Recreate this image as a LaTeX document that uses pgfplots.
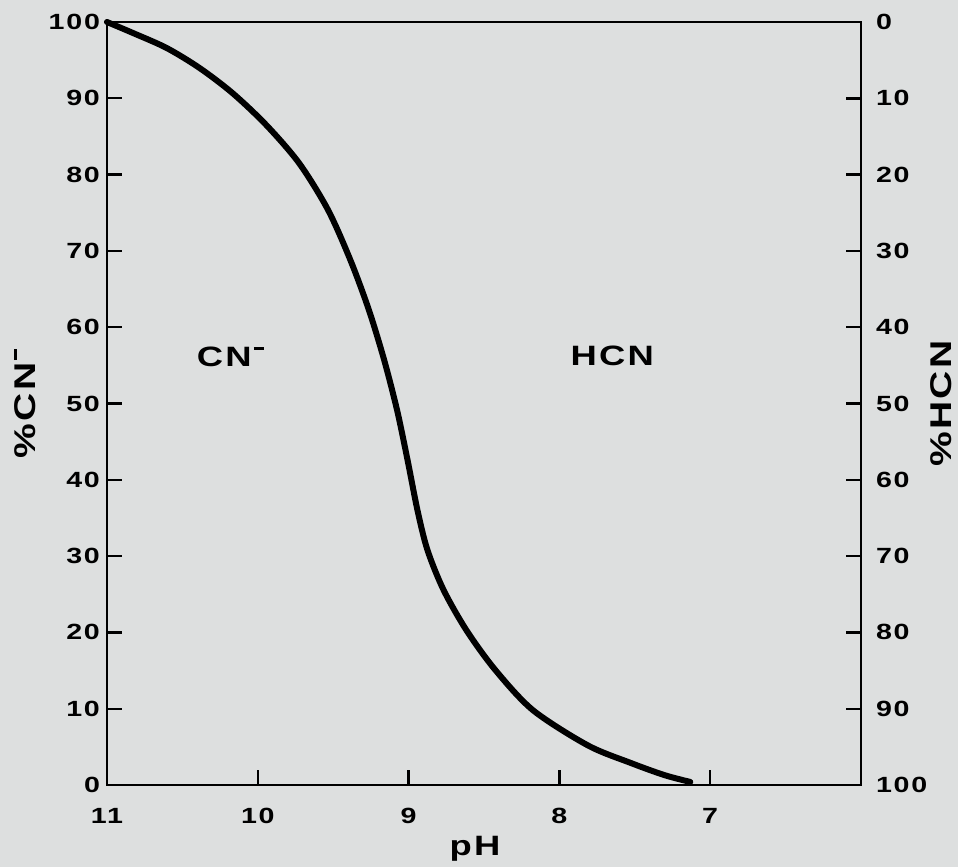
\documentclass[border=0pt]{standalone}
\usepackage{pgfplots}
\pgfplotsset{compat=1.18}
\usepackage{fontspec}
\setmainfont{Liberation Sans}[FakeStretch=1.3, LetterSpace=8]
\definecolor{paper}{RGB}{221,223,223}
\newcommand{\minus}{\hspace{0.08em}\raisebox{0.6em}{\rule{0.38em}{0.11em}}}
\begin{document}
\begin{tikzpicture}[font=\bfseries]
\fill[paper] (-53.5pt,-41pt) rectangle (425.5pt,392.5pt);
\useasboundingbox (-53.5pt,-41pt) rectangle (425.5pt,392.5pt);
\pgfplotsset{
  base/.style={
    at={(0,0)}, anchor=south west,
    width=377pt, height=381.5pt, scale only axis,
    xmin=6, xmax=11, ymin=0, ymax=100,
    tick align=inside, major tick length=7.5pt,
    axis line style={line width=1.3pt},
    every tick/.style={black, line width=1.2pt},
    /pgf/number format/assume math mode=true,
    ticklabel style={font=\bfseries\fontsize{11}{12}\selectfont},
    clip=false,
  }
}
\begin{axis}[base,
  x dir=reverse,
  xtick={7,8,9,10,11}, ytick={0,10,...,100},
  xtick pos=bottom, ytick pos=left,
  xticklabel style={yshift=-8pt},
]
\addplot[black, line width=3pt, smooth, line cap=round] coordinates {
  (11,100) (10.828,98.56) (10.604,96.59) (10.386,93.97) (10.168,90.69)
  (9.944,86.5) (9.726,81.5) (9.535,75.4) (9.386,68.8) (9.264,62.3)
  (9.162,55.7) (9.076,49.1) (9.007,42.6) (8.941,36.0) (8.875,30.8)
  (8.769,25.6) (8.617,20.3) (8.426,15.1) (8.175,9.8) (7.812,5.2)
  (7.528,2.9) (7.304,1.3) (7.132,0.4)
};
\node[font=\bfseries\fontsize{14}{16}\selectfont] at (axis cs:10.18,56.1) {CN\minus};
\node[font=\bfseries\fontsize{14}{16}\selectfont] at (axis cs:7.65,56.2) {HCN};
\node[rotate=90, font=\bfseries\fontsize{15}{17}\selectfont] at (axis description cs:-0.109,0.5) {\%CN\minus};
\node[font=\bfseries\fontsize{14}{16}\selectfont] at (axis description cs:0.488,-0.083) {pH};
\end{axis}
\begin{axis}[base,
  axis x line=none, axis y line*=right,
  y dir=reverse, ytick={0,10,...,100},
  yticklabel style={xshift=4pt},
]
\addplot[draw=none] coordinates {(6,0) (11,100)};
\node[rotate=90, font=\bfseries\fontsize{15}{17}\selectfont] at (axis description cs:1.106,0.5) {\%HCN};
\end{axis}
\end{tikzpicture}
\end{document}
